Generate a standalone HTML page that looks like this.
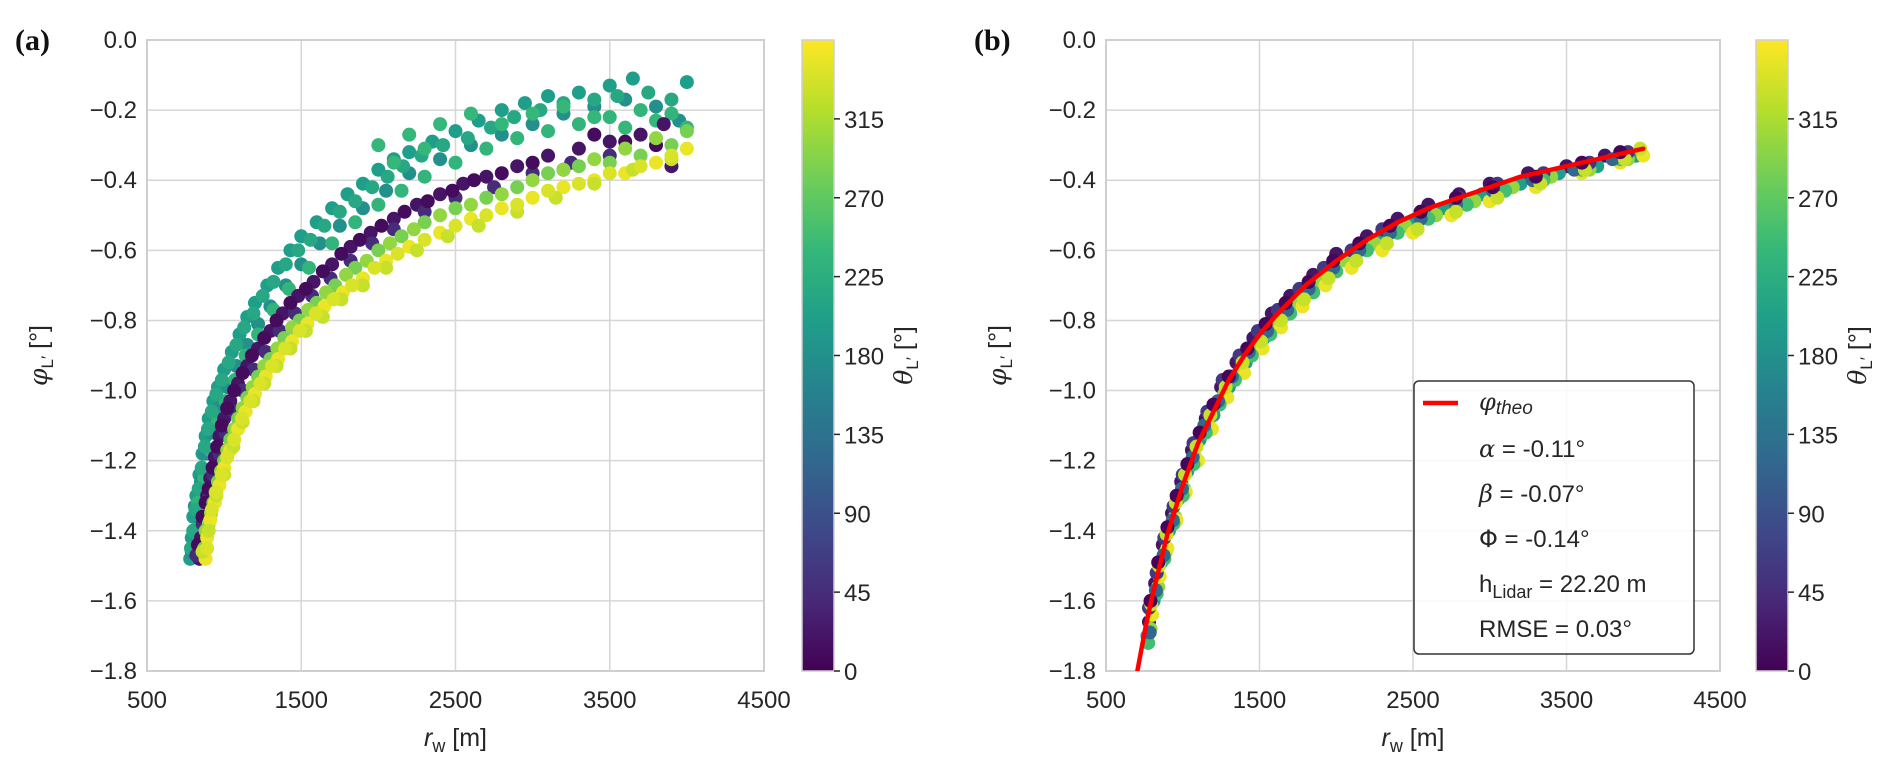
<!DOCTYPE html>
<html><head><meta charset="utf-8"><style>
html,body{margin:0;padding:0;background:#fff;}
svg{display:block;font-family:"Liberation Sans",sans-serif;}
</style></head><body>
<svg id="fig" width="1892" height="758" viewBox="0 0 1892 758" xmlns="http://www.w3.org/2000/svg">
<defs>
<linearGradient id="vir" x1="0" y1="1" x2="0" y2="0">
<stop offset="0" stop-color="#440154"/><stop offset="0.111" stop-color="#482878"/><stop offset="0.222" stop-color="#3e4989"/><stop offset="0.333" stop-color="#31688e"/><stop offset="0.444" stop-color="#26828e"/><stop offset="0.556" stop-color="#1f9e89"/><stop offset="0.667" stop-color="#35b779"/><stop offset="0.778" stop-color="#6ece58"/><stop offset="0.889" stop-color="#b5de2b"/><stop offset="1" stop-color="#fde725"/>
</linearGradient>
<clipPath id="clipA"><rect x="147" y="40" width="617" height="631"/></clipPath>
<clipPath id="clipB"><rect x="1106" y="40" width="614" height="631"/></clipPath>
</defs>
<g id="panelA"></g>
<g id="panelB"></g>
</svg>
<script>
// ---- data ----
const xTicks = [500, 1500, 2500, 3500, 4500];
const yTicks = [0.0, -0.2, -0.4, -0.6, -0.8, -1.0, -1.2, -1.4, -1.6, -1.8];
const cbTicks = [0, 45, 90, 135, 180, 225, 270, 315];

// Panel (a) bands: theta value, r, phi
const aTheta = [200, 180, 235, 215, 240, 20, 45, 10, 285, 300, 350, 330, 340];
const aR = [
 [780,790,800,820,840,860,880,900,930,960,1000,1050,1100,1150,1200,1280,1350,1430,1500,1600,1700,1800,1900,2000,2100,2200,2350,2500,2650,2800,2950,3100,3300,3500,3650,4000],
 [790,810,850,880,920,970,1020,1080,1150,1220,1300,1400,1500,1620,1750,1900,2050,2200,2400,2600,2800,3000,3200,3400,3600,3800,3950],
 [800,830,870,910,960,1010,1070,1140,1220,1320,1420,1550,1700,1850,2000,2150,2300,2500,2700,2900,3100,3300,3500,3700,3900,4000],
 [785,800,815,835,855,875,895,920,950,985,1030,1080,1130,1190,1250,1320,1400,1480,1560,1650,1750,1850,1960,2060,2160,2280,2420,2580,2730,2880,3050,3200,3400,3550,3750,3900],
 [2000,2200,2400,2600,2800,3000,3200,3400,3600,3800,2300,2100],
 [840,850,870,890,910,940,970,1000,1040,1090,1150,1220,1300,1380,1480,1580,1700,1820,1950,2100,2250,2400,2550,2700,2900,3100,3300,3500,3700,3850,3900],
 [820,860,900,930,970,1010,1060,1120,1190,1270,1360,1460,1570,1690,1820,1960,2100,2300,2500,2750,3000,3250,3500],
 [830,860,880,900,925,955,985,1020,1065,1120,1180,1260,1340,1430,1530,1640,1760,1880,2020,2170,2320,2480,2620,2800,3000,3200,3400,3600,3800],
 [870,900,930,960,1000,1040,1090,1150,1220,1300,1390,1490,1600,1720,1850,2000,2150,2300,2500,2700,2900,3100,3300,3500,3700,3900,4000],
 [880,915,945,980,1020,1065,1120,1185,1260,1345,1440,1545,1660,1790,1925,2075,2230,2400,2600,2800,3000,3200,3400,3600,3800],
 [880,890,910,940,970,1000,1040,1090,1140,1200,1270,1350,1440,1540,1650,1770,1900,2050,2200,2400,2600,2800,3000,3200,3400,3600,3800,4000],
 [860,900,950,1000,1060,1120,1190,1260,1340,1430,1530,1640,1760,1900,2050,2250,2450,2650,2900,3150,3400,3650,3900],
 [890,920,950,985,1020,1065,1115,1170,1235,1310,1395,1490,1595,1710,1830,1975,2125,2300,2500,2700,2900,3100,3300,3500,3700,3900]
];
const aPhi = [
 [-1.48,-1.42,-1.36,-1.30,-1.24,-1.18,-1.13,-1.08,-1.03,-0.99,-0.94,-0.89,-0.84,-0.79,-0.75,-0.70,-0.65,-0.60,-0.56,-0.52,-0.48,-0.44,-0.41,-0.37,-0.34,-0.32,-0.29,-0.26,-0.23,-0.20,-0.18,-0.16,-0.15,-0.13,-0.11,-0.12],
 [-1.46,-1.33,-1.26,-1.18,-1.12,-1.05,-0.99,-0.93,-0.87,-0.81,-0.76,-0.70,-0.64,-0.58,-0.53,-0.48,-0.43,-0.38,-0.34,-0.30,-0.27,-0.24,-0.21,-0.19,-0.17,-0.19,-0.23],
 [-1.40,-1.32,-1.25,-1.17,-1.09,-1.03,-0.97,-0.90,-0.84,-0.77,-0.71,-0.65,-0.58,-0.52,-0.47,-0.43,-0.39,-0.35,-0.31,-0.28,-0.26,-0.24,-0.22,-0.20,-0.21,-0.25],
 [-1.45,-1.40,-1.34,-1.28,-1.22,-1.16,-1.11,-1.06,-1.01,-0.97,-0.92,-0.87,-0.82,-0.78,-0.73,-0.69,-0.64,-0.60,-0.57,-0.53,-0.49,-0.46,-0.42,-0.39,-0.36,-0.33,-0.30,-0.28,-0.25,-0.22,-0.20,-0.18,-0.17,-0.16,-0.15,-0.17],
 [-0.30,-0.27,-0.24,-0.21,-0.24,-0.21,-0.19,-0.22,-0.25,-0.23,-0.31,-0.35],
 [-1.48,-1.42,-1.36,-1.30,-1.25,-1.19,-1.13,-1.08,-1.03,-0.98,-0.93,-0.88,-0.83,-0.78,-0.73,-0.69,-0.64,-0.59,-0.55,-0.51,-0.47,-0.44,-0.41,-0.39,-0.36,-0.33,-0.31,-0.29,-0.27,-0.24,-0.36],
 [-1.47,-1.38,-1.31,-1.24,-1.18,-1.12,-1.06,-1.00,-0.94,-0.89,-0.83,-0.78,-0.73,-0.68,-0.63,-0.58,-0.54,-0.49,-0.45,-0.42,-0.38,-0.35,-0.33],
 [-1.44,-1.36,-1.32,-1.28,-1.22,-1.16,-1.10,-1.05,-1.00,-0.95,-0.90,-0.85,-0.80,-0.75,-0.71,-0.66,-0.61,-0.57,-0.53,-0.49,-0.46,-0.43,-0.40,-0.38,-0.35,-0.37,-0.27,-0.29,-0.30],
 [-1.45,-1.38,-1.32,-1.26,-1.20,-1.14,-1.08,-1.02,-0.96,-0.91,-0.85,-0.80,-0.75,-0.70,-0.65,-0.60,-0.56,-0.52,-0.48,-0.45,-0.42,-0.38,-0.36,-0.35,-0.33,-0.30,-0.26],
 [-1.40,-1.35,-1.29,-1.23,-1.17,-1.11,-1.05,-0.99,-0.93,-0.88,-0.82,-0.77,-0.72,-0.67,-0.63,-0.58,-0.54,-0.50,-0.47,-0.44,-0.40,-0.37,-0.34,-0.31,-0.28],
 [-1.48,-1.42,-1.37,-1.32,-1.27,-1.22,-1.17,-1.11,-1.06,-1.01,-0.96,-0.91,-0.86,-0.81,-0.76,-0.72,-0.68,-0.63,-0.59,-0.55,-0.51,-0.48,-0.45,-0.42,-0.40,-0.38,-0.35,-0.31],
 [-1.46,-1.40,-1.30,-1.24,-1.16,-1.09,-1.03,-0.98,-0.93,-0.88,-0.83,-0.79,-0.74,-0.70,-0.65,-0.60,-0.56,-0.53,-0.49,-0.45,-0.41,-0.37,-0.34],
 [-1.45,-1.34,-1.29,-1.24,-1.19,-1.14,-1.08,-1.03,-0.98,-0.93,-0.88,-0.83,-0.78,-0.74,-0.70,-0.65,-0.61,-0.57,-0.53,-0.50,-0.47,-0.43,-0.41,-0.38,-0.36,-0.33]
];

// Panel (b) bands
const bTheta = [20, 200, 300, 350, 60, 250, 120, 330, 5];
const bR = [
 [780,820,870,930,990,1060,1150,1250,1350,1460,1580,1700,1850,2000,2200,2400,2600,2800,3000,3250,3500,3750,3950],
 [770,810,860,910,970,1030,1110,1200,1300,1410,1530,1650,1800,1950,2100,2300,2500,2700,2950,3200,3450,3700,3950],
 [790,840,890,950,1010,1080,1170,1270,1380,1500,1620,1760,1900,2060,2250,2450,2650,2900,3150,3400,3650,3900],
 [800,850,900,960,1020,1100,1190,1290,1400,1520,1640,1780,1930,2100,2300,2500,2750,3000,3300,3600,3850,4000],
 [780,830,880,940,1000,1070,1160,1260,1370,1490,1620,1760,1920,2100,2300,2550,2800,3050,3350,3650,3900],
 [775,830,880,940,1000,1070,1150,1240,1340,1450,1570,1700,1850,2000,2200,2400,2600,2850,3100,3350,3600,3850],
 [785,825,875,935,995,1065,1140,1230,1320,1430,1550,1680,1820,1980,2150,2350,2550,2780,3020,3280,3550,3800],
 [795,845,895,955,1015,1090,1180,1280,1390,1510,1640,1790,1950,2130,2330,2530,2780,3050,3330,3620,3880,3980],
 [790,840,900,960,1030,1110,1200,1300,1420,1540,1670,1820,1980,2150,2350,2550,2780,3020,3300,3600,3850]
];
const bPhi = [
 [-1.66,-1.55,-1.44,-1.35,-1.26,-1.17,-1.08,-0.99,-0.92,-0.85,-0.78,-0.73,-0.67,-0.61,-0.56,-0.51,-0.47,-0.44,-0.41,-0.38,-0.36,-0.33,-0.33],
 [-1.70,-1.60,-1.49,-1.40,-1.31,-1.23,-1.14,-1.07,-0.99,-0.92,-0.85,-0.79,-0.72,-0.66,-0.61,-0.56,-0.52,-0.48,-0.44,-0.41,-0.38,-0.36,-0.33],
 [-1.68,-1.56,-1.46,-1.36,-1.28,-1.19,-1.10,-1.01,-0.94,-0.87,-0.81,-0.75,-0.69,-0.63,-0.58,-0.53,-0.50,-0.46,-0.42,-0.39,-0.37,-0.34],
 [-1.64,-1.53,-1.45,-1.37,-1.29,-1.20,-1.11,-1.02,-0.95,-0.88,-0.82,-0.76,-0.70,-0.65,-0.60,-0.55,-0.50,-0.46,-0.42,-0.38,-0.35,-0.33],
 [-1.62,-1.52,-1.42,-1.33,-1.24,-1.15,-1.06,-0.97,-0.90,-0.83,-0.77,-0.71,-0.65,-0.60,-0.54,-0.49,-0.45,-0.41,-0.38,-0.35,-0.32],
 [-1.72,-1.58,-1.48,-1.38,-1.30,-1.21,-1.12,-1.04,-0.97,-0.90,-0.84,-0.78,-0.72,-0.66,-0.60,-0.55,-0.51,-0.47,-0.43,-0.40,-0.37,-0.34],
 [-1.69,-1.57,-1.47,-1.37,-1.28,-1.19,-1.10,-1.03,-0.96,-0.89,-0.83,-0.77,-0.71,-0.65,-0.60,-0.55,-0.51,-0.47,-0.43,-0.40,-0.37,-0.34],
 [-1.61,-1.50,-1.41,-1.32,-1.24,-1.16,-1.07,-0.99,-0.92,-0.86,-0.80,-0.74,-0.68,-0.63,-0.58,-0.54,-0.49,-0.45,-0.41,-0.37,-0.34,-0.31],
 [-1.60,-1.49,-1.39,-1.30,-1.21,-1.12,-1.04,-0.96,-0.88,-0.81,-0.75,-0.69,-0.63,-0.58,-0.53,-0.49,-0.45,-0.42,-0.39,-0.35,-0.32]
];

// theoretical curve (panel b)
const theoR = [700,760,800,850,900,950,1000,1100,1200,1300,1400,1500,1600,1800,2000,2200,2400,2600,2800,3000,3200,3400,3600,3800,4000];
const theoPhi = [-1.81,-1.67,-1.59,-1.50,-1.41,-1.34,-1.27,-1.15,-1.06,-0.97,-0.90,-0.84,-0.79,-0.70,-0.63,-0.57,-0.52,-0.48,-0.45,-0.42,-0.39,-0.37,-0.35,-0.33,-0.31];

// ---- helpers ----
const NS = "http://www.w3.org/2000/svg";
const VIR = ["#440154","#482878","#3e4989","#31688e","#26828e","#1f9e89","#35b779","#6ece58","#b5de2b","#fde725"];
function hex(c){return [parseInt(c.slice(1,3),16),parseInt(c.slice(3,5),16),parseInt(c.slice(5,7),16)];}
function viridis(t){t=Math.max(0,Math.min(1,t));const f=t*(VIR.length-1);const i=Math.min(VIR.length-2,Math.floor(f));const u=f-i;const a=hex(VIR[i]),b=hex(VIR[i+1]);return "rgb("+a.map((v,k)=>Math.round(v+(b[k]-v)*u)).join(",")+")";}
function mk(tag, attrs, parent){const e=document.createElementNS(NS,tag);for(const k in attrs)e.setAttribute(k,attrs[k]);parent.appendChild(e);return e;}

function drawPanel(g, L, R, T, B, cbL, label, clip, thetas, rs, phis, withTheo){
  const xS = v => L + (v-500)/4000*(R-L);
  const yS = v => T + (0 - v)/1.8*(B-T);
  xTicks.forEach(v=>{
    const l=mk("line",{x1:xS(v),x2:xS(v),y1:T,y2:B,stroke:"#d6d6d6","stroke-width":1.5},g);
    
    
    const t=mk("text",{x:xS(v),y:B+37,"text-anchor":"middle","font-size":24,fill:"#262626"},g);
    t.textContent=v;
    
    
  });
  yTicks.forEach(v=>{
    const l=mk("line",{x1:L,x2:R,y1:yS(v),y2:yS(v),stroke:"#d6d6d6","stroke-width":1.5},g);
    
    
    const t=mk("text",{x:L-10,y:yS(v)+8,"text-anchor":"end","font-size":24,fill:"#262626"},g);
    t.textContent=(v===0?"0.0":"\u2212"+Math.abs(v).toFixed(1));
    
    
  });
  const frame=mk("rect",{x:L,y:T,width:R-L,height:B-T,fill:"none",stroke:"#cfcfcf","stroke-width":2},g);
  
  
  const pg=mk("g",{"clip-path":"url(#"+clip+")"},g);
  
  
  thetas.forEach((th,bi)=>{
    rs[bi].forEach((r,i)=>{
      const c=mk("circle",{cx:xS(r),cy:yS(phis[bi][i]),r:7,fill:viridis(th/360)},pg);
      
      
    });
  });
  if(withTheo){
    const d=theoR.map((r,i)=>(i?"L":"M")+xS(r).toFixed(1)+","+yS(theoPhi[i]).toFixed(1)).join(" ");
    const p=mk("path",{d:d,fill:"none",stroke:"#ff0000","stroke-width":4.5,"stroke-linecap":"round"},pg);
    
    
  }
  const xl=mk("text",{x:(L+R)/2,y:B+75,"text-anchor":"middle","font-size":25,fill:"#262626"},g);
  xl.innerHTML='<tspan font-style="italic">r</tspan><tspan font-size="18" dy="6">w</tspan><tspan dy="-6"> [m]</tspan>';
  
  
  const yl=mk("text",{x:0,y:0,"text-anchor":"middle","font-size":25,fill:"#262626",transform:"translate("+(L-100)+","+((T+B)/2)+") rotate(-90)"},g);
  yl.innerHTML='<tspan font-style="italic" font-family="DejaVu Serif">φ</tspan><tspan font-size="17" dy="6">L′</tspan><tspan dy="-6"> [°]</tspan>';
  
  
  const pl=mk("text",{x:L-132,y:T+10,"font-size":30,"font-weight":"bold","font-family":"Liberation Serif",fill:"#111"},g);
  pl.textContent=label;
  
  
  const cb=mk("rect",{x:cbL,y:T,width:32,height:B-T,fill:"url(#vir)",stroke:"#cfcfcf","stroke-width":1.5},g);
  
  
  const cS = v => B - v/360*(B-T);
  cbTicks.forEach(v=>{
    const tk=mk("line",{x1:cbL+32,x2:cbL+38,y1:cS(v),y2:cS(v),stroke:"#262626","stroke-width":1.5},g);
    
    
    const t=mk("text",{x:cbL+42,y:cS(v)+9,"font-size":24,fill:"#262626"},g);
    t.textContent=v;
    
    
  });
  const cl=mk("text",{x:0,y:0,"text-anchor":"middle","font-size":25,fill:"#262626",transform:"translate("+(cbL+110)+","+((T+B)/2)+") rotate(-90)"},g);
  cl.innerHTML='<tspan font-style="italic" font-family="DejaVu Serif">θ</tspan><tspan font-size="17" dy="6">L′</tspan><tspan dy="-6"> [°]</tspan>';
  
  
}

drawPanel(document.getElementById("panelA"),147,764,40,671,802,"(a)","clipA",aTheta,aR,aPhi,false);
drawPanel(document.getElementById("panelB"),1106,1720,40,671,1756,"(b)","clipB",bTheta,bR,bPhi,true);

const gb=document.getElementById("panelB");
const lg=mk("g",{},gb);


mk("rect",{x:1414,y:381,width:280,height:273,rx:5,fill:"#fff","fill-opacity":0.85,stroke:"#333","stroke-width":1.5},lg);
mk("line",{x1:1423,x2:1458,y1:403,y2:403,stroke:"#ff0000","stroke-width":4.5},lg);
const legRows=[
 ['<tspan font-style="italic" font-family="DejaVu Serif">φ</tspan><tspan font-style="italic" font-size="19" dy="4">theo</tspan>',410],
 ['<tspan font-style="italic" font-family="DejaVu Serif">α</tspan> = -0.11°',457],
 ['<tspan font-style="italic" font-family="DejaVu Serif">β</tspan> = -0.07°',502],
 ['<tspan font-family="DejaVu Sans">Φ</tspan> = -0.14°',547],
 ['h<tspan font-size="18" dy="6">Lidar</tspan><tspan dy="-6"> = 22.20 m</tspan>',592],
 ['RMSE =  0.03°',637]
];
legRows.forEach(r=>{
  const t=mk("text",{x:1479,y:r[1],"font-size":24,fill:"#262626","xml:space":"preserve"},lg);
  t.innerHTML=r[0];
  
  
});
</script>
</body></html>
